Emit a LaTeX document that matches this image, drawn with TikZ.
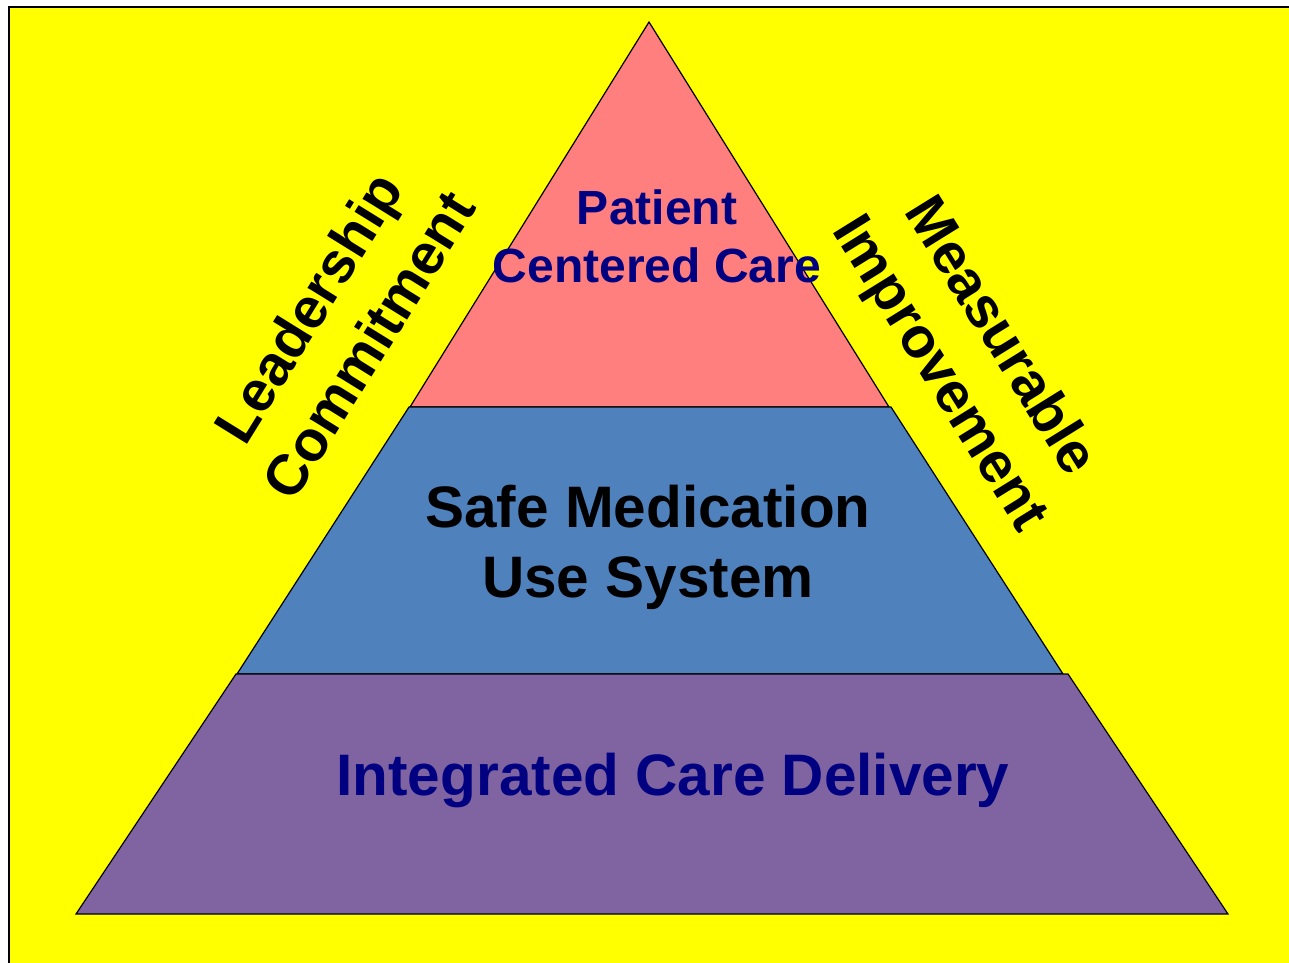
\documentclass[tikz,border=0pt]{standalone}
\usepackage{fontspec}
\setmainfont{Liberation Sans}
\usetikzlibrary{calc}

\definecolor{bgyellow}{RGB}{255,255,0}
\definecolor{tierpink}{RGB}{255,127,127}
\definecolor{tierblue}{RGB}{79,129,189}
\definecolor{tierpurple}{RGB}{128,100,162}
\definecolor{navytext}{RGB}{0,0,128}

\tikzset{
	tier/.style={draw=black, line width=1.2pt, line join=miter},
	label/.style={font=\bfseries\fontsize{58.5}{70}\selectfont, align=center, inner sep=0pt},
	sidelabel/.style={font=\bfseries\fontsize{57}{71}\selectfont, align=center, inner sep=0pt}
}

\begin{document}
\begin{tikzpicture}[x=1pt, y=-1pt]
			%%%%% START %%%%%
			\useasboundingbox (0, 0) rectangle (1289, 962);
			\clip (0, 0) rectangle (1289, 962);
			
			\draw[fill=bgyellow, line width=2.2pt] (9, 7) rectangle (1300, 975);
			
			% the three tiers
			\draw[tier, fill=tierpink] (649, 22) -- (410, 407) -- (889, 407) -- cycle;
			\draw[tier, fill=tierblue] (409, 407) -- (891, 407) -- (1063, 674) -- (237, 674) -- cycle;
			\draw[tier, fill=tierpurple] (236, 674) -- (1068, 674) -- (1228, 914) -- (76, 914) -- cycle;
			
			\node[label, font=\bfseries\fontsize{48}{58}\selectfont, text=navytext] (patient) at (657, 236) {Patient\\Centered Care};
			\node[label] (safe) at (648, 547) {Safe Medication\\Use System};
			\node[label, text=navytext, anchor=base] (integrated) at (673, 795) {Integrated Care Delivery};
			
			\node[sidelabel, rotate=58.2] (leader) at (338, 326) {Leadership\\Commitment};
			\node[sidelabel, rotate=-58.2] (measure) at (968, 356) {Measurable\\Improvement};
			
			%%%%% END %%%%%
\end{tikzpicture}
\end{document}
